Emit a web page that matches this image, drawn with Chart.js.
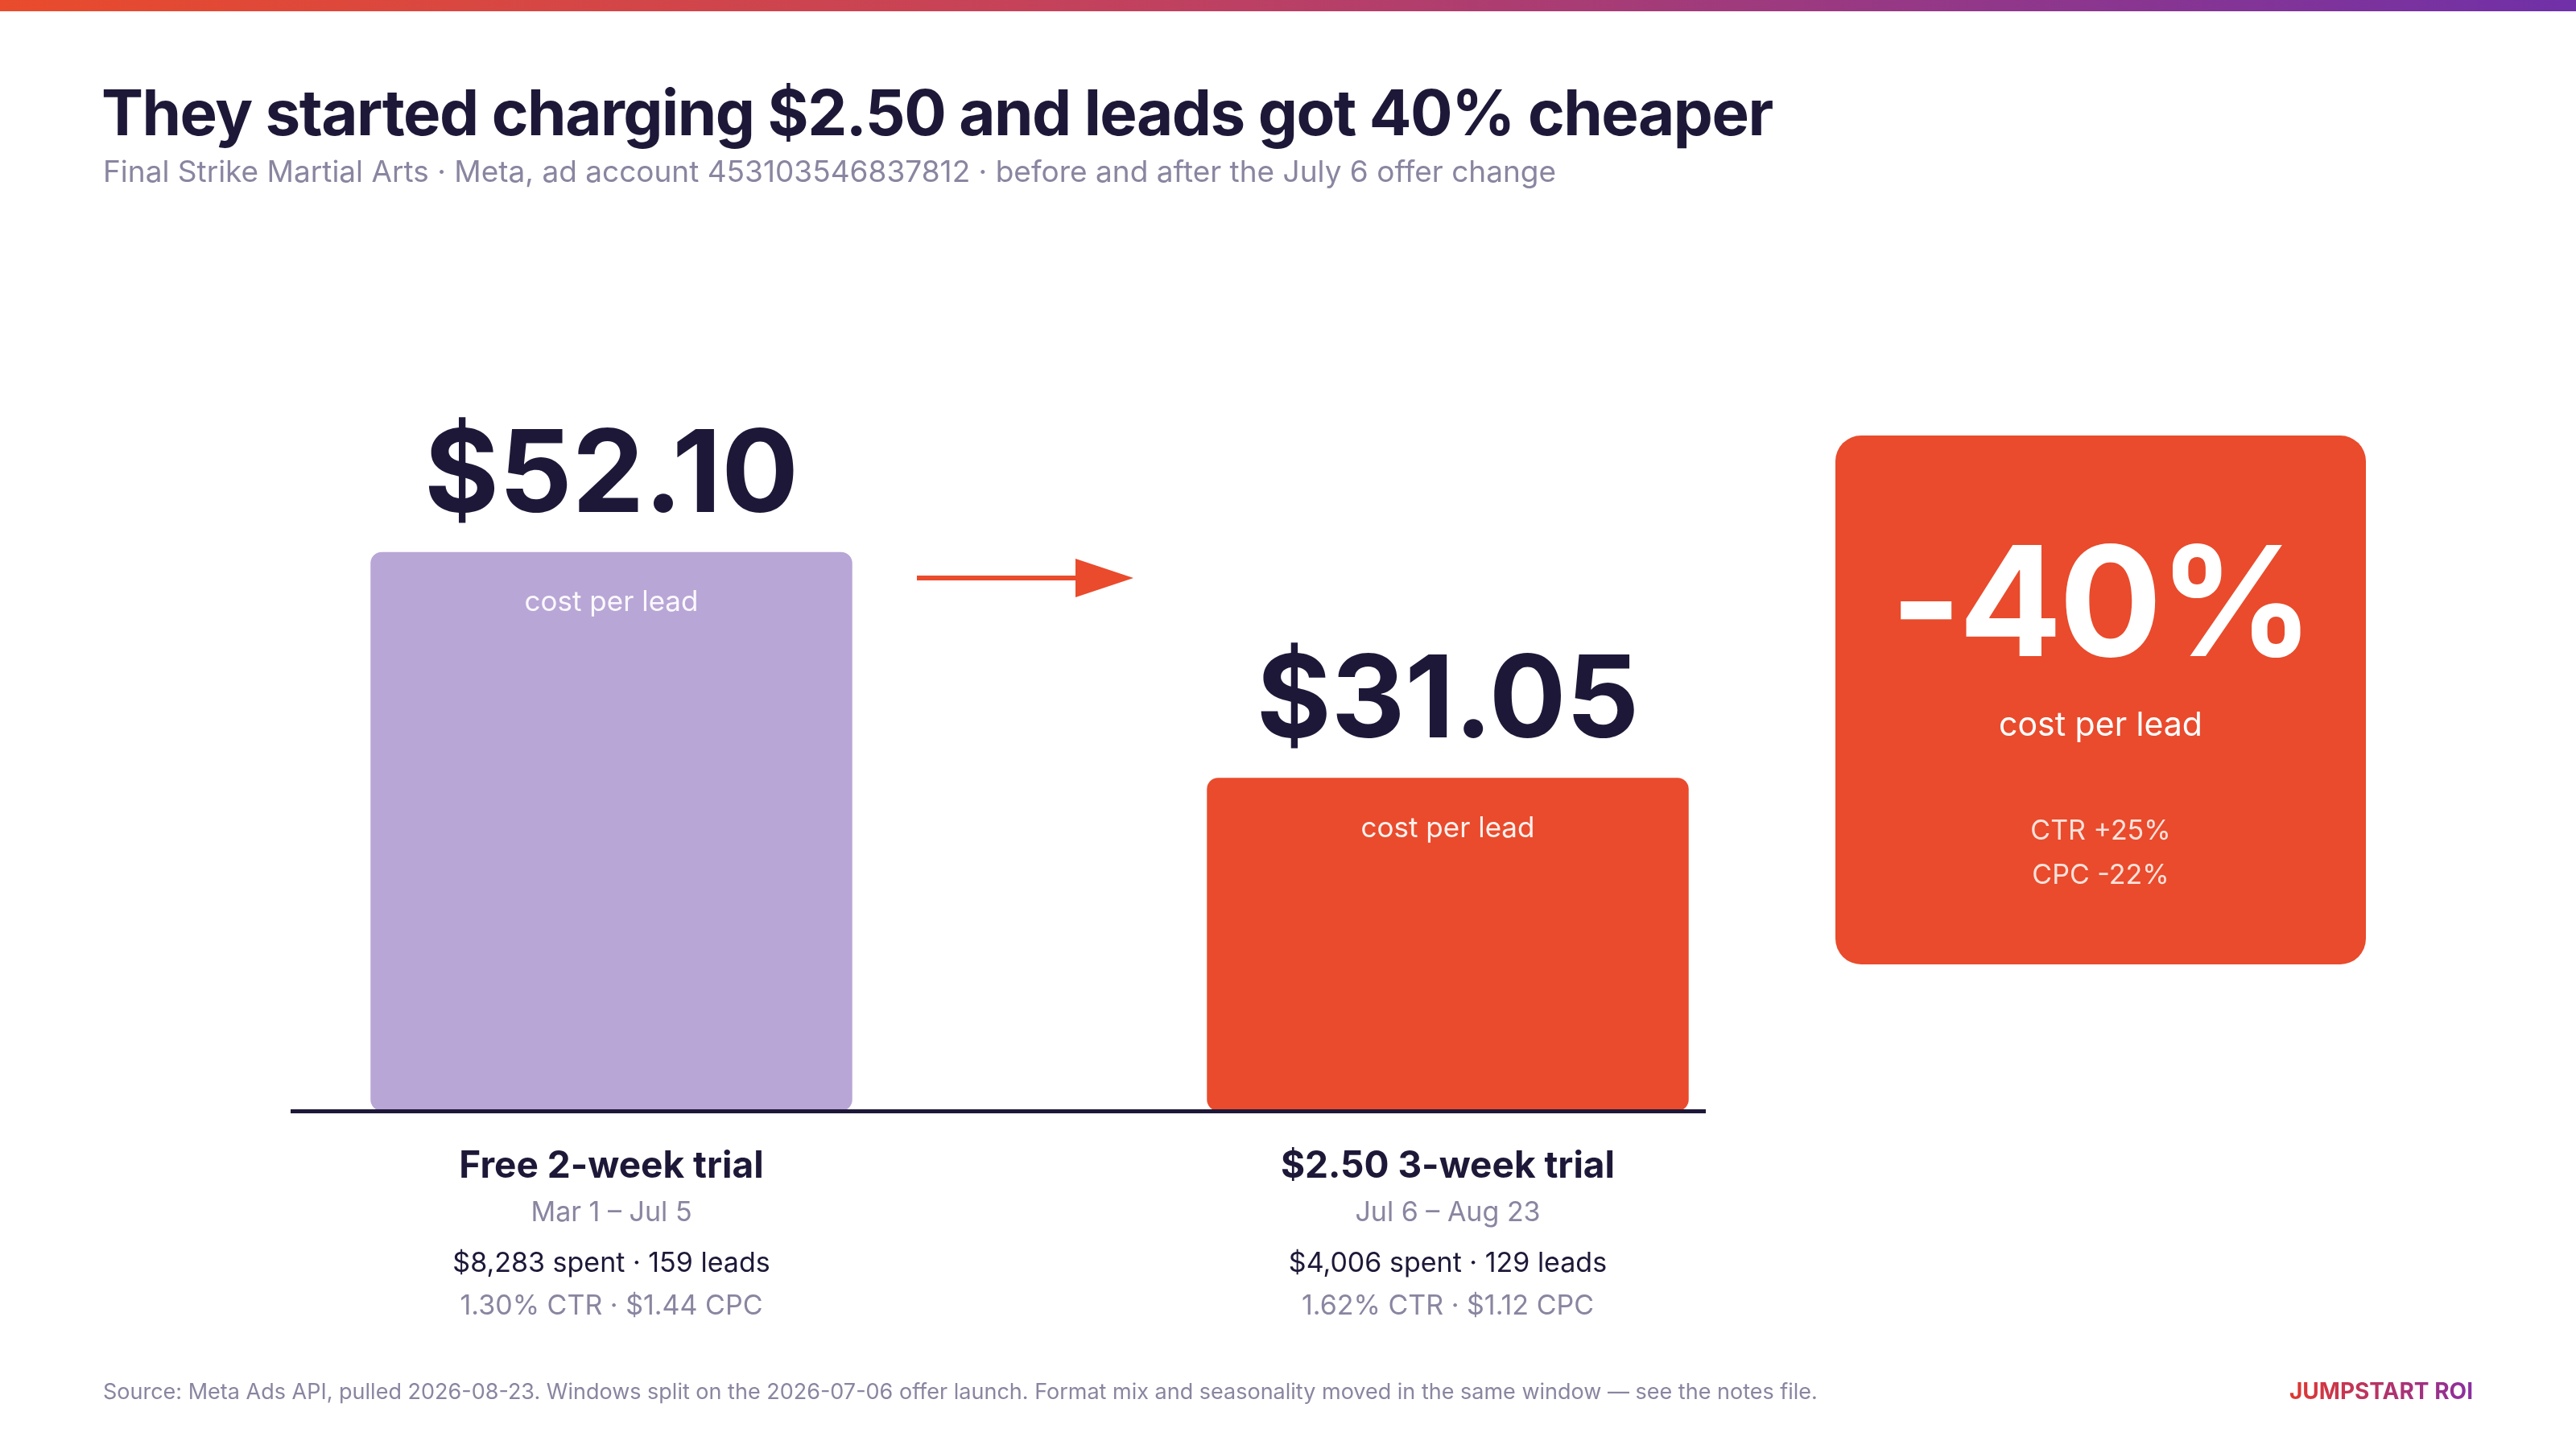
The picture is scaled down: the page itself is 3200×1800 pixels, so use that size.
<!DOCTYPE html>
<html><head><meta charset="utf-8">
<script src="https://cdn.jsdelivr.net/npm/chart.js@4"></script>
<style>
html,body{margin:0;padding:0;background:#fff;width:3200px;height:1800px;overflow:hidden;font-family:Inter,"Noto Sans",sans-serif;}
#bar{position:absolute;left:0;top:0;width:3200px;height:14px;background:linear-gradient(90deg,#E94B2C,#C0415F 45%,#7030A8);}
.t{position:absolute;white-space:nowrap;}
#title{left:126px;top:92px;font-size:78px;font-weight:700;color:#1E1838;letter-spacing:-1.5px;}
#sub{left:128px;top:190px;font-size:37px;color:#8A85A0;}
#wrap{position:absolute;left:0;top:0;width:3200px;height:1800px;}
#box{position:absolute;left:2280px;top:541px;width:659px;height:657px;background:#E94B2C;border-radius:32px;color:#fff;text-align:center;}
.c{position:absolute;transform:translateX(-50%);text-align:center;}
#foot{left:128px;top:1712px;font-size:27px;color:#8A85A0;}
#brand{right:128px;top:1711px;font-size:28px;font-weight:700;background:linear-gradient(90deg,#E0382F,#8A2FA0);-webkit-background-clip:text;color:transparent;}
</style></head><body>
<div id="bar"></div>
<div id="wrap"><canvas id="c" width="3200" height="1800"></canvas></div>
<div class="t" id="title">They started charging $2.50 and leads got 40% cheaper</div>
<div class="t" id="sub">Final Strike Martial Arts · Meta, ad account 453103546837812 · before and after the July 6 offer change</div>
<div id="box">
  <div style="position:absolute;left:0;right:0;top:110px;font-size:190px;font-weight:700;letter-spacing:-4px;line-height:1;">-40%</div>
  <div style="position:absolute;left:0;right:0;top:872px;"></div>
  <div style="position:absolute;left:0;right:0;top:333px;font-size:41px;">cost per lead</div>
  <div style="position:absolute;left:0;right:0;top:469px;font-size:34px;color:#FBE2DC;">CTR +25%</div>
  <div style="position:absolute;left:0;right:0;top:524px;font-size:34px;color:#FBE2DC;">CPC -22%</div>
</div>
<div id="labels"></div>
<div class="t" id="foot">Source: Meta Ads API, pulled 2026-08-23. Windows split on the 2026-07-06 offer launch. Format mix and seasonality moved in the same window — see the notes file.</div>
<div class="t" id="brand">JUMPSTART ROI</div>
<script>
const categories = ["Free 2-week trial", "$2.50 3-week trial"];
const costPerLead = [52.10, 31.05];
const valueLabels = ["$52.10", "$31.05"];
const dateRanges = ["Mar 1 – Jul 5", "Jul 6 – Aug 23"];
const spendLines = ["$8,283 spent · 159 leads", "$4,006 spent · 129 leads"];
const rateLines = ["1.30% CTR · $1.44 CPC", "1.62% CTR · $1.12 CPC"];
const barColors = ["#B8A6D6", "#E94B2C"];

const deco = {
  id: 'deco',
  afterDatasetsDraw(chart) {
    const ctx = chart.ctx, meta = chart.getDatasetMeta(0);
    const y0 = chart.scales.y.getPixelForValue(0);
    ctx.save();
    ctx.fillStyle = '#1E1838';
    ctx.fillRect(361, y0 - 2, 1758, 5);
    ctx.textAlign = 'center';
    meta.data.forEach((b, i) => {
      ctx.fillStyle = '#1E1838';
      ctx.font = '700 142px Inter, sans-serif';
      ctx.textBaseline = 'alphabetic';
      ctx.fillText(valueLabels[i], b.x, b.y - 50);
      ctx.fillStyle = 'rgba(255,255,255,0.92)';
      ctx.font = '35px Inter, sans-serif';
      ctx.textBaseline = 'middle';
      ctx.fillText('cost per lead', b.x, b.y + 63);
    });
    // arrow
    ctx.strokeStyle = '#E94B2C'; ctx.fillStyle = '#E94B2C'; ctx.lineWidth = 6;
    ctx.beginPath(); ctx.moveTo(1139, 718); ctx.lineTo(1345, 718); ctx.stroke();
    ctx.beginPath(); ctx.moveTo(1408, 718); ctx.lineTo(1336, 694); ctx.lineTo(1336, 742); ctx.closePath(); ctx.fill();
    ctx.restore();
    // HTML labels under bars
    const L = document.getElementById('labels');
    if (!L.dataset.done) {
      L.dataset.done = 1;
      meta.data.forEach((b, i) => {
        const rows = [[categories[i], 1418, '700 46px', '#1E1838'], [dateRanges[i], 1484, '34px', '#8A85A0'],
                      [spendLines[i], 1547, '34px', '#1E1838'], [rateLines[i], 1600, '34px', '#8A85A0']];
        rows.forEach(r => {
          const d = document.createElement('div');
          d.className = 't c';
          d.style.left = b.x + 'px'; d.style.top = r[1] + 'px';
          d.style.font = r[2] + ' Inter, sans-serif'; d.style.color = r[3];
          d.textContent = r[0];
          L.appendChild(d);
        });
      });
    }
  }
};

new Chart(document.getElementById('c'), {
  type: 'bar',
  data: { labels: categories, datasets: [{ data: costPerLead, backgroundColor: barColors,
    borderRadius: 14, borderSkipped: false, barPercentage: 1, categoryPercentage: 0.576 }] },
  options: {
    responsive: false, animation: false, devicePixelRatio: 1,
    layout: { padding: { left: 240, right: 882, top: 314, bottom: 420 } },
    scales: { x: { display: false }, y: { display: false, min: 0, max: 80 } },
    plugins: { legend: { display: false }, tooltip: { enabled: false } }
  },
  plugins: [deco]
});
</script>
</body></html>
